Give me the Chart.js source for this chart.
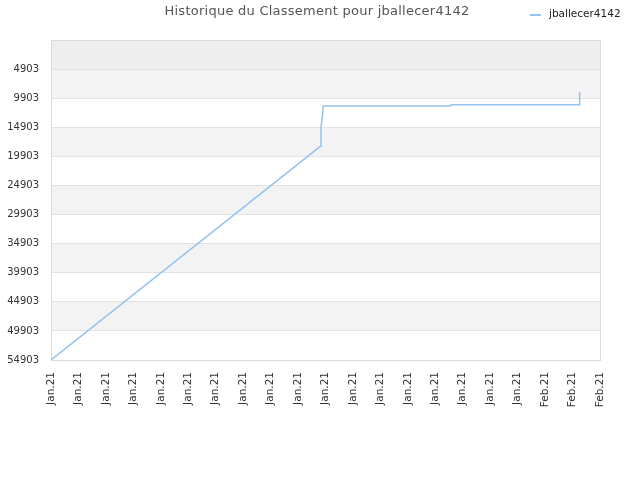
<!DOCTYPE html>
<html>
<head>
<meta charset="utf-8">
<script src="https://cdn.jsdelivr.net/npm/chart.js@4"></script>
<style>
  html, body { margin: 0; padding: 0; background: #fff; }
  #wrap { width: 640px; height: 480px; }
</style>
</head>
<body>
<div id="wrap"><canvas id="rankChart" width="640" height="480"></canvas></div>
<script>
// x tick labels (one per step of the day axis)
const xLabels = ['Jan.21', 'Jan.21', 'Jan.21', 'Jan.21', 'Jan.21', 'Jan.21', 'Jan.21',
    'Jan.21', 'Jan.21', 'Jan.21', 'Jan.21', 'Jan.21', 'Jan.21', 'Jan.21', 'Jan.21',
    'Jan.21', 'Jan.21', 'Jan.21', 'Feb.21', 'Feb.21', 'Feb.21'];
// y tick values (ranking, reversed axis)
const yTicks = [4903, 9903, 14903, 19903, 24903, 29903, 34903, 39903, 44903, 49903, 54903];

// series: position on the day axis and ranking
const dayPos = [0, 9.825, 9.836, 9.861, 9.898, 9.92, 14.554, 14.583, 19.235, 19.246, 19.271];
const ranks = [54903, 18130, 14900, 13900, 12470, 11260, 11260, 11040, 11040, 10500, 8860];

const playerName = 'jballecer4142';
const chartTitle = 'Historique du Classement pour ' + playerName;
const lineColor = '#95c3f0';

// alternate background bands between the y ticks, plus title and legend
const bandsPlugin = {
    id: 'bands',
    beforeDraw(chart) {
        const ctx = chart.ctx;
        const area = chart.chartArea;
        const y = chart.scales.y;
        ctx.save();
        ctx.fillStyle = '#ffffff';
        ctx.fillRect(area.left, area.top, area.right - area.left, area.bottom - area.top);
        for (let k = 0; k < yTicks.length - 1; k++) {
            const lo = yTicks[k];
            const hi = yTicks[k + 1];
            // counting from the bottom: odd bands are grey
            const idxFromBottom = yTicks.length - 2 - k;
            if (idxFromBottom % 2 === 1) {
                const y1 = y.getPixelForValue(lo);
                const y2 = y.getPixelForValue(hi);
                ctx.fillStyle = '#f3f3f3';
                ctx.fillRect(area.left, y1, area.right - area.left, y2 - y1);
            }
        }
        // top band above first tick
        const yTop = y.getPixelForValue(yTicks[0]);
        ctx.fillStyle = '#eeeeee';
        ctx.fillRect(area.left, area.top, area.right - area.left, yTop - area.top);
        ctx.restore();
    },
    beforeDatasetsDraw(chart) {
        const ctx = chart.ctx;
        const area = chart.chartArea;
        ctx.save();
        ctx.strokeStyle = '#dadada';
        ctx.lineWidth = 1;
        ctx.strokeRect(area.left + 0.5, area.top + 0.5, area.right - area.left, area.bottom - area.top);
        ctx.restore();
    },
    afterDraw(chart) {
        const ctx = chart.ctx;
        ctx.save();
        // title, centred on the page
        ctx.fillStyle = '#555';
        ctx.font = '13px "DejaVu Sans"';
        ctx.letterSpacing = '0.25px';
        ctx.textAlign = 'center';
        ctx.textBaseline = 'middle';
        ctx.fillText(chartTitle, 317, 12);
        ctx.letterSpacing = '0px';
        // legend in the top right corner
        ctx.strokeStyle = lineColor;
        ctx.lineWidth = 2;
        ctx.beginPath();
        ctx.moveTo(530, 15);
        ctx.lineTo(541, 15);
        ctx.stroke();
        ctx.fillStyle = '#222';
        ctx.font = '10.5px "DejaVu Sans"';
        ctx.textAlign = 'left';
        ctx.fillText(playerName, 549, 14);
        ctx.restore();
    }
};

const points = dayPos.map((d, i) => ({ x: d, y: ranks[i] }));

new Chart(document.getElementById('rankChart'), {
    type: 'line',
    data: {
        datasets: [{
            label: playerName,
            data: points,
            borderColor: lineColor,
            borderWidth: 1.5,
            pointRadius: 0,
            tension: 0,
            fill: false
        }]
    },
    options: {
        responsive: false,
        animation: false,
        layout: { padding: { left: 0, right: 40, top: 40, bottom: 0 } },
        plugins: {
            legend: { display: false },
            tooltip: { enabled: false },
            title: { display: false }
        },
        scales: {
            x: {
                type: 'linear',
                min: 0,
                max: 20,
                afterFit: function(scale) { scale.height = 120; },
                grid: { display: false, drawTicks: false },
                border: { color: '#dadada' },
                ticks: {
                    stepSize: 1,
                    autoSkip: false,
                    minRotation: 90,
                    maxRotation: 90,
                    padding: 12,
                    color: '#333',
                    font: { family: 'DejaVu Sans', size: 10.5 },
                    callback: function(value) { return xLabels[value]; }
                }
            },
            y: {
                type: 'linear',
                reverse: true,
                min: -97,
                max: 54903,
                afterFit: function(scale) { scale.width = 51; },
                afterBuildTicks: function(scale) {
                    scale.ticks = yTicks.map(v => ({ value: v }));
                },
                grid: { color: '#e2e2e2', drawTicks: false },
                border: { color: '#dadada' },
                ticks: {
                    padding: 12,
                    color: '#333',
                    font: { family: 'DejaVu Sans', size: 10 },
                    callback: function(value) { return String(value); }
                }
            }
        }
    },
    plugins: [bandsPlugin]
});
</script>
</body>
</html>
